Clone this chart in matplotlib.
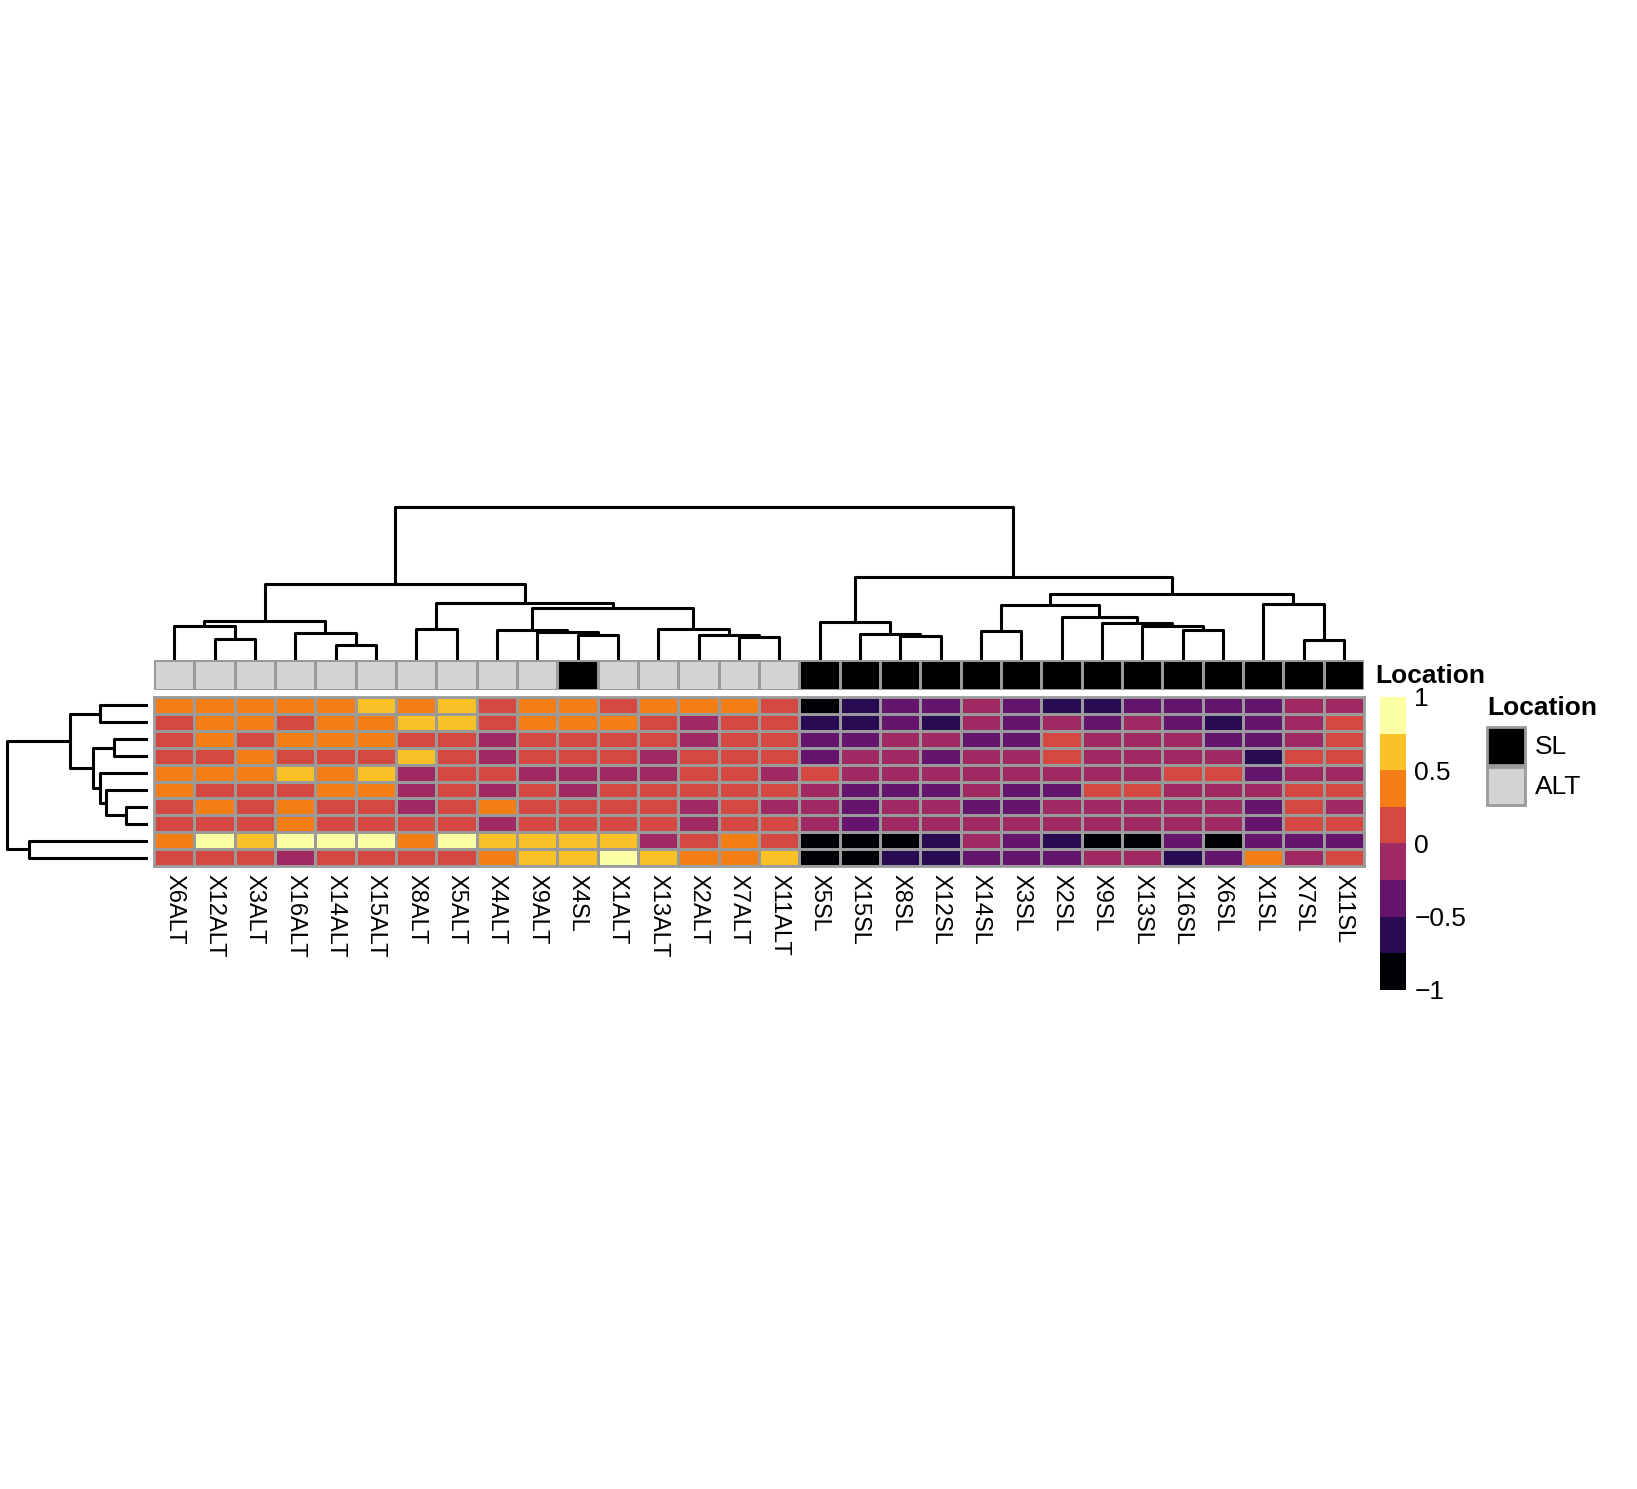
import numpy as np
import matplotlib
matplotlib.use("Agg")
import matplotlib.pyplot as plt
from matplotlib.colors import ListedColormap, BoundaryNorm
from matplotlib.patches import Rectangle

plt.rcParams['font.family'] = ['Liberation Sans', 'DejaVu Sans']

col_labels = ["X6ALT","X12ALT","X3ALT","X16ALT","X14ALT","X15ALT","X8ALT","X5ALT","X4ALT","X9ALT",
              "X4SL","X1ALT","X13ALT","X2ALT","X7ALT","X11ALT","X5SL","X15SL","X8SL","X12SL",
              "X14SL","X3SL","X2SL","X9SL","X13SL","X16SL","X6SL","X1SL","X7SL","X11SL"]
location = ["ALT"]*10 + ["SL"] + ["ALT"]*5 + ["SL"]*14

# binned levels 0..7 (value = -0.875 + 0.25*level)
levels = [
 "555556564554555401223211222233",
 "455455664555434411213232321234",
 "454555443444434422332243332234",
 "445444643444344423323343333144",
 "555656344333344343333333344233",
 "544455343434444432223224433344",
 "454544345444434332332233333243",
 "444544443444434432333333333244",
 "576777576666345400013210020222",
 "444344445667655600112223312534",
]
values = np.array([[-0.875 + 0.25*int(c) for c in r] for r in levels])

# dendrograms: (left, right, height); leaves are ints
col_tree = (
    ((( 0, (1, 2, 19), 31), (3, (4, 5, 14), 25), 36),
     ((6, 7, 29), (((8, (9, (10, 11, 23), 26), 28), (12, (13, (14, 15, 21), 23), 29), 48)), 53), 70),
    (((16, ((17, (18, 19, 22), 24)), 35)),
     (((20, 21, 27), (22, (23, (24, (25, 26, 28), 31), 34), 40), 51), (27, (28, 29, 18), 52), 61), 77),
    141)
# fix tuple shapes
col_tree = (
    (((0, (1, 2, 19), 31), (3, (4, 5, 14), 25), 36),
     ((6, 7, 29), ((8, (9, (10, 11, 23), 26), 28), (12, (13, (14, 15, 21), 23), 29), 48), 53), 70),
    ((16, (17, (18, 19, 22), 24), 35),
     (((20, 21, 27), (22, (23, (24, (25, 26, 28), 31), 34), 40), 51), (27, (28, 29, 18), 52), 61), 77),
    141)
row_tree = ((((0, 1, 47), ((2, 3, 34), (4, (5, (6, 7, 22), 41), 47), 54), 77)), (8, 9, 117), 139)
row_tree = (((0, 1, 47), ((2, 3, 34), (4, (5, (6, 7, 22), 41), 47), 54), 77), (8, 9, 117), 139)

def draw_tree(ax, node, vertical):
    if isinstance(node, int):
        return node + 0.5, 0
    l, r, h = node
    xl, hl = draw_tree(ax, l, vertical)
    xr, hr = draw_tree(ax, r, vertical)
    xs = [xl, xl, xr, xr]; ys = [hl, h, h, hr]
    if vertical:
        ax.plot(xs, ys, color='black', lw=2.2, solid_capstyle='butt')
    else:
        ax.plot(ys, xs, color='black', lw=2.2, solid_capstyle='butt')
    return (xl + xr) / 2, h

W, H = 1637, 1489
fig = plt.figure(figsize=(W/100, H/100), dpi=100)
def axp(x0, y0, x1, y1):
    return fig.add_axes([x0/W, 1 - y1/H, (x1-x0)/W, (y1-y0)/H])

hx0, hx1, hy0, hy1 = 154, 1364, 697, 866
cmap = ListedColormap(plt.cm.inferno(np.linspace(0, 1, 8)))
norm = BoundaryNorm(np.linspace(-1, 1, 9), 8)

ax = axp(hx0, hy0, hx1, hy1)
ax.pcolormesh(values, cmap=cmap, norm=norm, edgecolors='#9a9a9a', linewidth=2)
ax.set_xlim(0, 30); ax.set_ylim(10, 0)
ax.set_yticks([]); ax.set_xticks(np.arange(30) + 0.5)
ax.set_xticklabels(col_labels, rotation=270, fontsize=17)
ax.tick_params(axis='x', length=0, pad=6)
for s in ax.spines.values():
    s.set_color('#9a9a9a'); s.set_linewidth(2)

# annotation bar
aa = axp(hx0, 660, hx1, 690)
loc_num = np.array([[1 if v == "SL" else 0 for v in location]])
aa.pcolormesh(loc_num, cmap=ListedColormap(['#d3d3d3', 'black']), edgecolors='#9a9a9a', linewidth=2)
aa.set_xlim(0, 30); aa.axis('off')
aa.add_patch(Rectangle((0, 0), 30, 1, fill=False, ec='#9a9a9a', lw=2))

# column dendrogram
ad = axp(hx0, 505, hx1, 660)
draw_tree(ad, col_tree, True)
ad.set_xlim(0, 30); ad.set_ylim(0, 143); ad.axis('off')

# row dendrogram
ar = axp(4, hy0, hx0 - 6, hy1)
draw_tree(ar, row_tree, False)
ar.set_ylim(10, 0); ar.set_xlim(142, 0); ar.axis('off')

# colorbar
cb = axp(1380, 697, 1406, 990)
cb.pcolormesh([0, 1], np.linspace(-1, 1, 9), np.linspace(-0.875, 0.875, 8).reshape(-1, 1), cmap=cmap, norm=norm)
cb.set_xlim(0, 1); cb.set_ylim(-1, 1)
cb.set_xticks([])
cb.yaxis.tick_right()
cb.set_yticks([-1, -0.5, 0, 0.5, 1])
cb.set_yticklabels(['\u22121', '\u22120.5', '0', '0.5', '1'], fontsize=19)
cb.tick_params(axis='y', length=0, pad=6)
for s in cb.spines.values():
    s.set_visible(False)
fig.text(1375/W, 1 - 676/H, "Location", fontsize=19, fontweight='bold', va='center', ha='left')

# legend
fig.text(1487/W, 1 - 708/H, "Location", fontsize=19, fontweight='bold', va='center', ha='left')
for i, (lab, colr) in enumerate([("SL", 'black'), ("ALT", '#d3d3d3')]):
    y0 = 727 + i * 40
    fig.patches.append(Rectangle((1487/W, 1 - (y0 + 38)/H), 38/W, 38/H, transform=fig.transFigure,
                                 fc=colr, ec='#9a9a9a', lw=2))
    fig.text(1535/W, 1 - (y0 + 20)/H, lab, fontsize=19, va='center', ha='left')

fig.savefig("out.png", dpi=100, facecolor='white')
